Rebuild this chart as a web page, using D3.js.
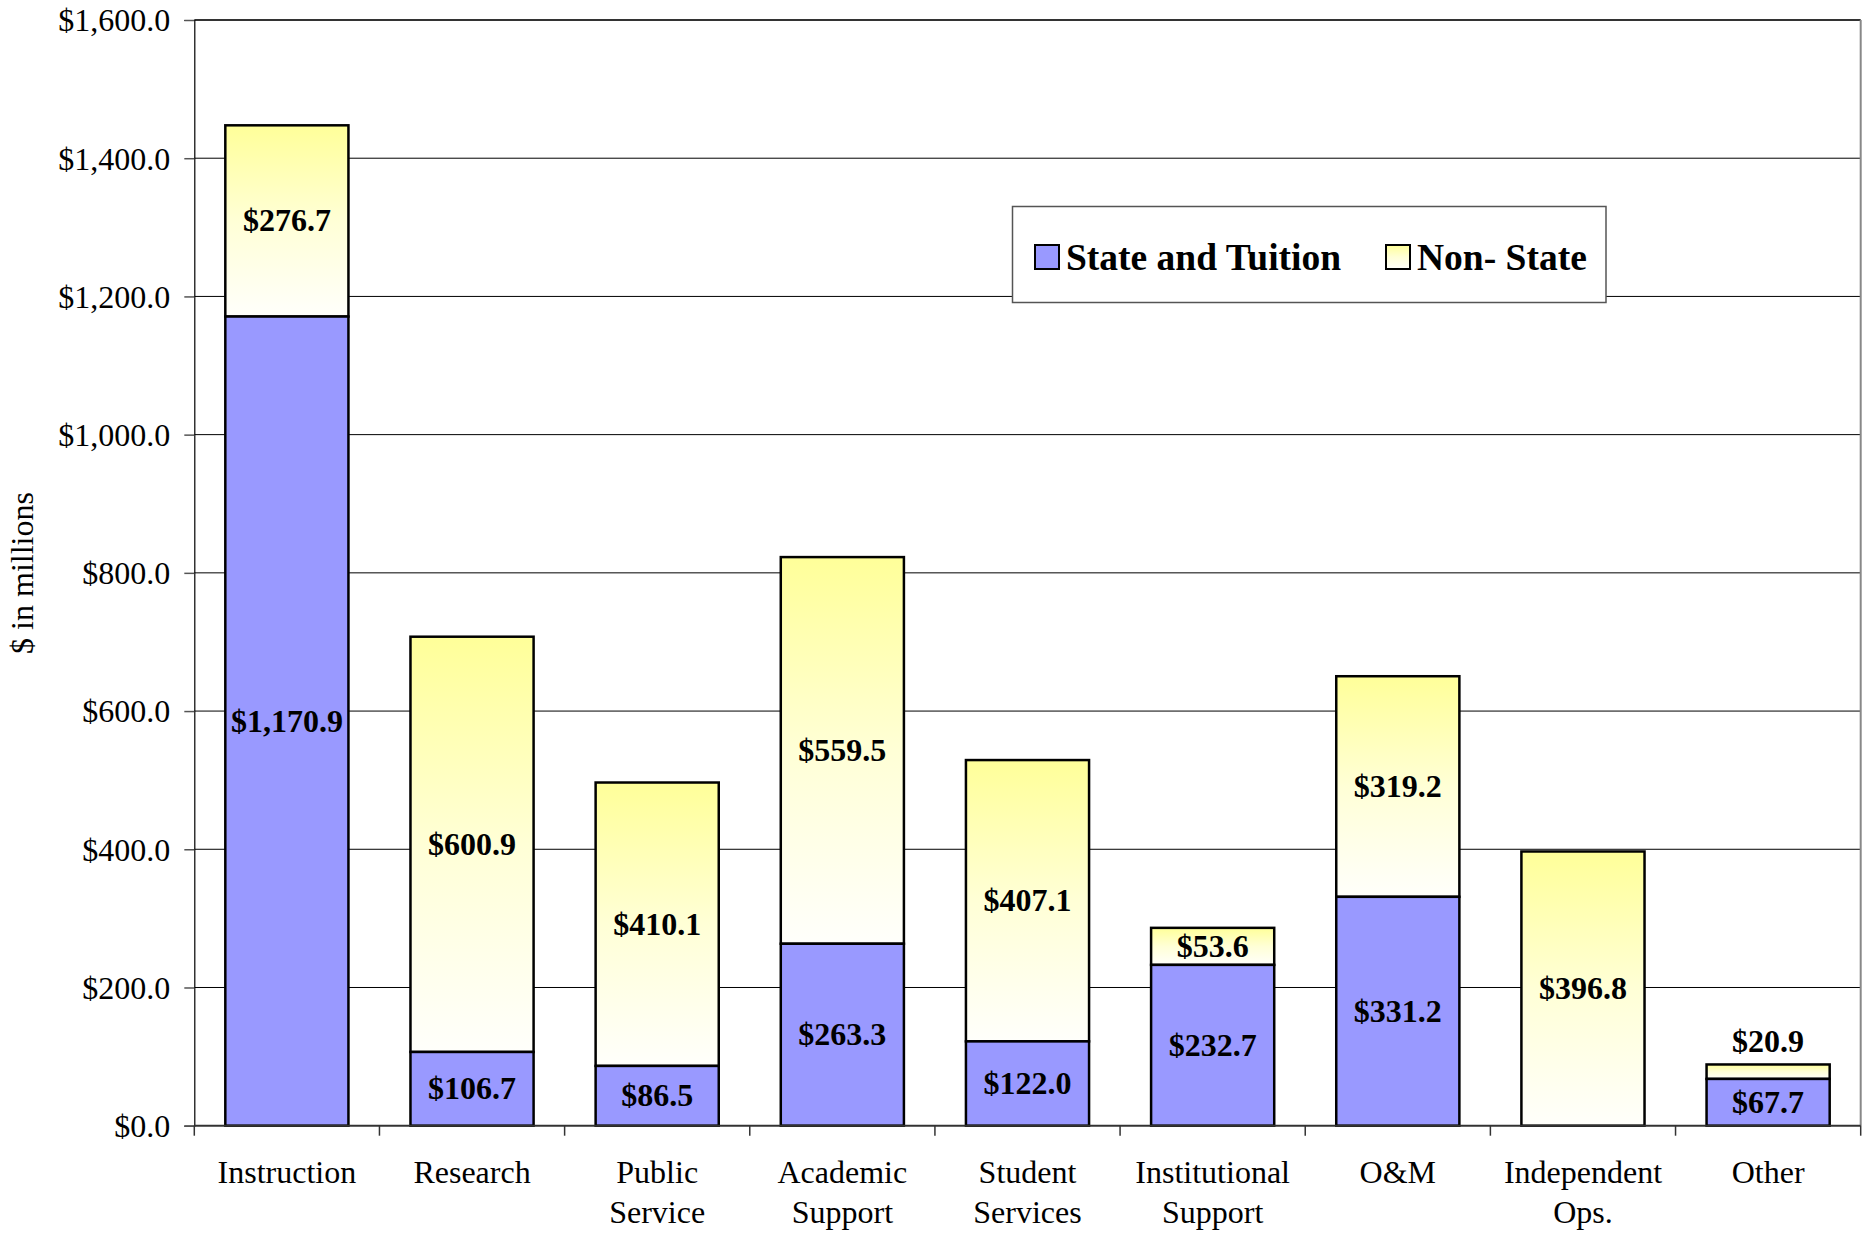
<!DOCTYPE html>
<html>
<head>
<meta charset="utf-8">
<script src="https://cdn.jsdelivr.net/npm/d3@7"></script>
<style>
  html, body { margin: 0; padding: 0; background: #fff; }
  svg { display: block; }
  text { font-family: "Liberation Serif", "Times New Roman", serif; fill: #000; }
</style>
</head>
<body>
<svg id="chart" width="1872" height="1233"></svg>
<script>
const categories = ["Instruction", "Research", "Public Service", "Academic Support", "Student Services", "Institutional Support", "O&M", "Independent Ops.", "Other"];
const categoryLines = [["Instruction"], ["Research"], ["Public", "Service"], ["Academic", "Support"], ["Student", "Services"], ["Institutional", "Support"], ["O&M"], ["Independent", "Ops."], ["Other"]];
const stateTuition = [1170.9, 106.7, 86.5, 263.3, 122.0, 232.7, 331.2, 0, 67.7];
const nonState = [276.7, 600.9, 410.1, 559.5, 407.1, 53.6, 319.2, 396.8, 20.9];
const yTicks = [0, 200, 400, 600, 800, 1000, 1200, 1400, 1600];
const seriesNames = ["State and Tuition", "Non- State"];
const yTitle = "$ in millions";

const svg = d3.select("#chart");
const L = 194.3, R = 1860.7, T = 20, B = 1125.7;

const defs = svg.append("defs");
const grad = defs.append("linearGradient").attr("id", "yg").attr("x1", 0).attr("y1", 0).attr("x2", 0).attr("y2", 1);
grad.append("stop").attr("offset", "0").attr("stop-color", "#FFFF99");
grad.append("stop").attr("offset", "0.5").attr("stop-color", "#FFFFD6");
grad.append("stop").attr("offset", "1").attr("stop-color", "#FFFFFB");

const x = d3.scaleBand().domain(categories).range([L, R]).paddingInner(0.335).paddingOuter(0.1675);
const y = d3.scaleLinear().domain([0, 1600]).range([B, T]);
const fmt = v => "$" + d3.format(",.1f")(v);

// gridlines
svg.append("g").selectAll("line").data(yTicks.filter(v => v > 0 && v < 1600)).join("line")
  .attr("x1", L).attr("x2", R).attr("y1", d => y(d)).attr("y2", d => y(d))
  .attr("stroke", "#000").attr("stroke-width", 1);
// top line
svg.append("line").attr("x1", L).attr("x2", R).attr("y1", y(1600)).attr("y2", y(1600))
  .attr("stroke", "#333").attr("stroke-width", 2);
// right border
svg.append("line").attr("x1", R).attr("x2", R).attr("y1", T).attr("y2", B)
  .attr("stroke", "#888").attr("stroke-width", 2);

// y axis
const yAxis = d3.axisLeft(y).tickValues(yTicks).tickFormat(fmt).tickSize(10).tickPadding(14);
const ya = svg.append("g").attr("transform", `translate(${L},0)`).call(yAxis);
ya.select(".domain").attr("stroke", "#000").attr("stroke-width", 1.2);
ya.selectAll(".tick line").attr("stroke", "#555").attr("stroke-width", 1.5);
ya.selectAll("text").attr("font-size", 32).attr("font-family", "Liberation Serif").attr("fill", "#000").attr("dy", "0.34em");

// bars
const data = categories.map((c, i) => ({ c, s: stateTuition[i], n: nonState[i] }));
const g = svg.append("g");
g.selectAll("rect.ns").data(data).join("rect").attr("class", "ns")
  .attr("x", d => x(d.c)).attr("width", x.bandwidth())
  .attr("y", d => y(d.s + d.n)).attr("height", d => y(d.s) - y(d.s + d.n))
  .attr("fill", "url(#yg)").attr("stroke", "#000").attr("stroke-width", 2.5);
g.selectAll("rect.st").data(data).join("rect").attr("class", "st")
  .attr("x", d => x(d.c)).attr("width", x.bandwidth())
  .attr("y", d => y(d.s)).attr("height", d => y(0) - y(d.s))
  .attr("fill", "#9999FF").attr("stroke", "#000").attr("stroke-width", 2.5);

// x axis
const xa = svg.append("g");
xa.append("line").attr("x1", L).attr("x2", R).attr("y1", B).attr("y2", B).attr("stroke", "#333").attr("stroke-width", 2);
const bounds = d3.range(categories.length + 1).map(i => L + i * x.step());
xa.selectAll("line.t").data(bounds).join("line").attr("class", "t")
  .attr("x1", d => d).attr("x2", d => d).attr("y1", B).attr("y2", B + 10)
  .attr("stroke", "#333").attr("stroke-width", 1.5);
categories.forEach((c, i) => {
  const t = xa.append("text").attr("text-anchor", "middle").attr("font-size", 32)
    .attr("x", x(c) + x.bandwidth() / 2).attr("y", 1183);
  categoryLines[i].forEach((ln, j) => {
    t.append("tspan").attr("x", x(c) + x.bandwidth() / 2).attr("dy", j === 0 ? 0 : 40).text(ln);
  });
});

// value labels
const lab = svg.append("g").attr("font-weight", "bold").attr("font-size", 32).attr("text-anchor", "middle");
data.forEach(d => {
  const cx = x(d.c) + x.bandwidth() / 2;
  if (d.s > 0) {
    lab.append("text").attr("x", cx).attr("y", (y(0) + y(d.s)) / 2).attr("dy", "0.33em").text(fmt(d.s));
  }
  if (d.n > 0) {
    const h = y(d.s) - y(d.s + d.n);
    if (h < 28) {
      lab.append("text").attr("x", cx).attr("y", y(d.s + d.n) - 12).text(fmt(d.n));
    } else {
      lab.append("text").attr("x", cx).attr("y", (y(d.s) + y(d.s + d.n)) / 2).attr("dy", "0.33em").text(fmt(d.n));
    }
  }
});

// y title
svg.append("text").attr("transform", "translate(33,573) rotate(-90)").attr("text-anchor", "middle")
  .attr("font-size", 32).text(yTitle);

// legend
const lg = svg.append("g");
lg.append("rect").attr("x", 1012.5).attr("y", 206.5).attr("width", 593.5).attr("height", 96)
  .attr("fill", "#fff").attr("stroke", "#555").attr("stroke-width", 1.5);
const lx = [1035, 1386], fills = ["#9999FF", "url(#yg)"];
seriesNames.forEach((n, i) => {
  lg.append("rect").attr("x", lx[i]).attr("y", 245).attr("width", 24).attr("height", 24)
    .attr("fill", fills[i]).attr("stroke", "#000").attr("stroke-width", 2);
  lg.append("text").attr("x", lx[i] + 31).attr("y", 269.5).attr("font-size", 37.5).attr("font-weight", "bold").text(n);
});
</script>
</body>
</html>
